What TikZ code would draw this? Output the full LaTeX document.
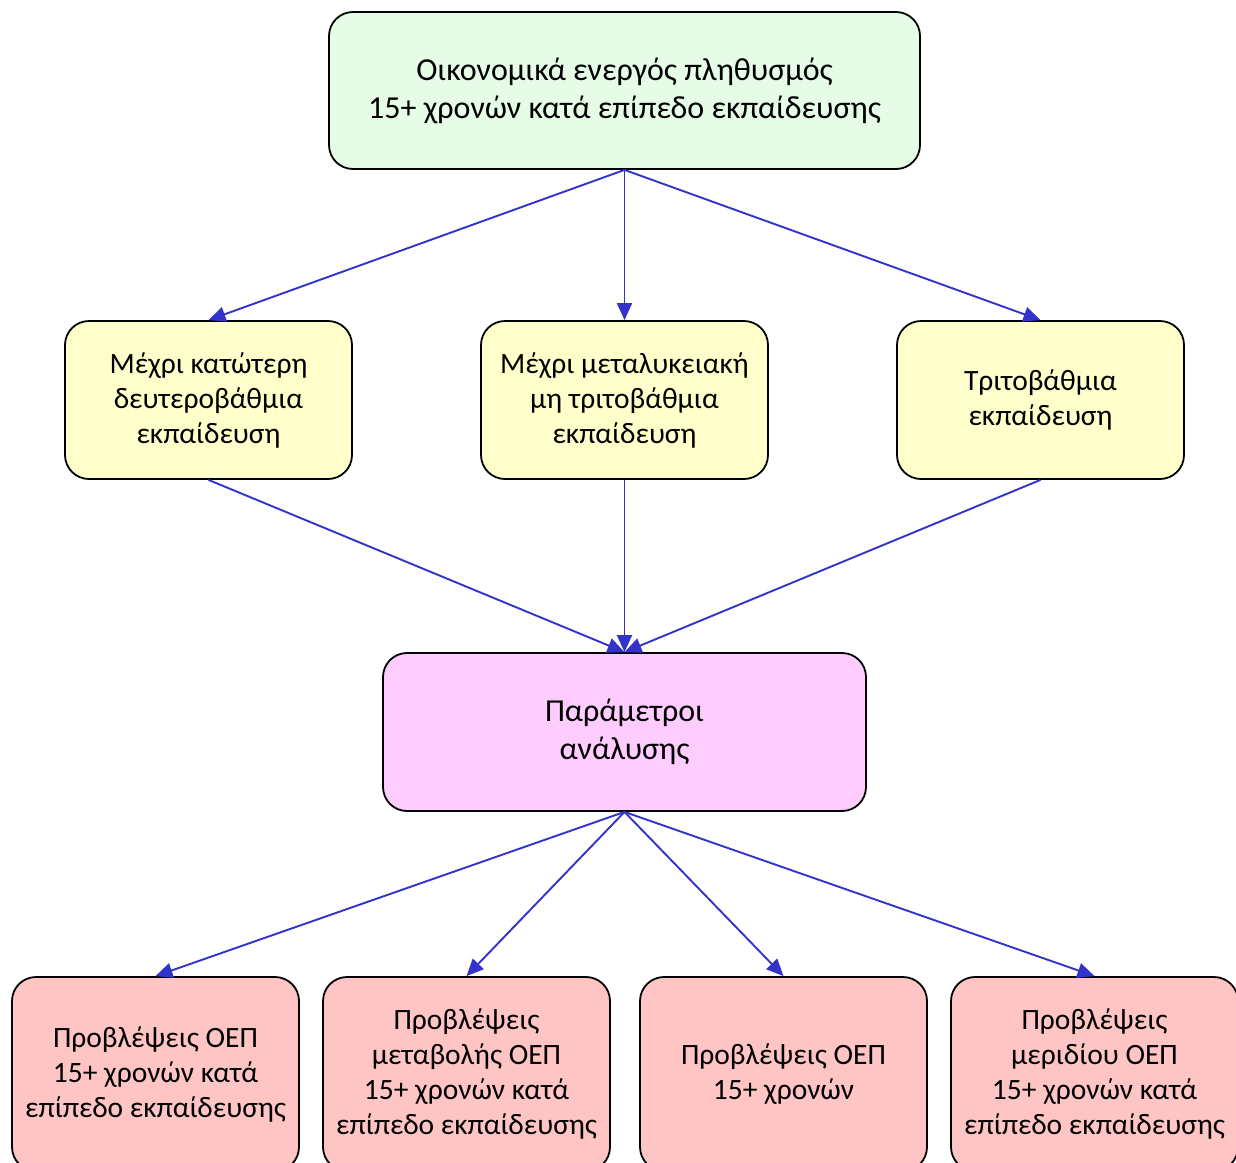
\documentclass[tikz,border=0pt]{standalone}
\usepackage{fontspec}
\setmainfont{Carlito}
\usetikzlibrary{arrows.meta}
\definecolor{topfill}{HTML}{E6FCE6}
\definecolor{midfill}{HTML}{FFFFCC}
\definecolor{parfill}{HTML}{FFCCFF}
\definecolor{botfill}{HTML}{FFC4C4}
\definecolor{arrowblue}{HTML}{3333CC}
\tikzset{
  box/.style={draw=black, line width=1.8pt, rounded corners=24pt, align=center, inner sep=0pt, text=black},
  bigtext/.style={font=\fontsize{32}{38}\selectfont},
  smalltext/.style={font=\fontsize{29.5}{35}\selectfont},
  conn/.style={draw=arrowblue, line width=1.9pt, -{Triangle[length=17pt,width=15pt]}}
}
\begin{document}
\begin{tikzpicture}[x=1pt,y=-1pt]
\useasboundingbox (0,0) rectangle (1236,1162);
\node[box, bigtext, fill=topfill, minimum width=591pt, minimum height=157pt] (top) at (624.5,90.5) {Οικονομικά ενεργός πληθυσμός\\15+ χρονών κατά επίπεδο εκπαίδευσης};
\node[box, smalltext, fill=midfill, minimum width=287pt, minimum height=158pt] (m1) at (208.5,400) {Μέχρι κατώτερη\\δευτεροβάθμια\\εκπαίδευση};
\node[box, smalltext, fill=midfill, minimum width=287pt, minimum height=158pt] (m2) at (624.5,400) {Μέχρι μεταλυκειακή\\μη τριτοβάθμια\\εκπαίδευση};
\node[box, smalltext, fill=midfill, minimum width=287pt, minimum height=158pt] (m3) at (1040.5,400) {Τριτοβάθμια\\εκπαίδευση};
\node[box, bigtext, fill=parfill, minimum width=483pt, minimum height=158pt] (par) at (624.5,732) {Παράμετροι\\ανάλυσης};
\node[box, smalltext, fill=botfill, minimum width=287pt, minimum height=194pt] (b1) at (155.5,1074) {Προβλέψεις ΟΕΠ\\15+ χρονών κατά\\επίπεδο εκπαίδευσης};
\node[box, smalltext, fill=botfill, minimum width=287pt, minimum height=194pt] (b2) at (466.5,1074) {Προβλέψεις\\μεταβολής ΟΕΠ\\15+ χρονών κατά\\επίπεδο εκπαίδευσης};
\node[box, smalltext, fill=botfill, minimum width=287pt, minimum height=194pt] (b3) at (783.5,1074) {Προβλέψεις ΟΕΠ\\15+ χρονών};
\node[box, smalltext, fill=botfill, minimum width=287pt, minimum height=194pt] (b4) at (1094.5,1074) {Προβλέψεις\\μεριδίου ΟΕΠ\\15+ χρονών κατά\\επίπεδο εκπαίδευσης};
\draw[conn] (top.south) -- (m1.north);
\draw[conn] (top.south) -- (m2.north);
\draw[conn] (top.south) -- (m3.north);
\draw[conn] (m1.south) -- (par.north);
\draw[conn] (m2.south) -- (par.north);
\draw[conn] (m3.south) -- (par.north);
\draw[conn] (par.south) -- (b1.north);
\draw[conn] (par.south) -- (b2.north);
\draw[conn] (par.south) -- (b3.north);
\draw[conn] (par.south) -- (b4.north);
\end{tikzpicture}
\end{document}
